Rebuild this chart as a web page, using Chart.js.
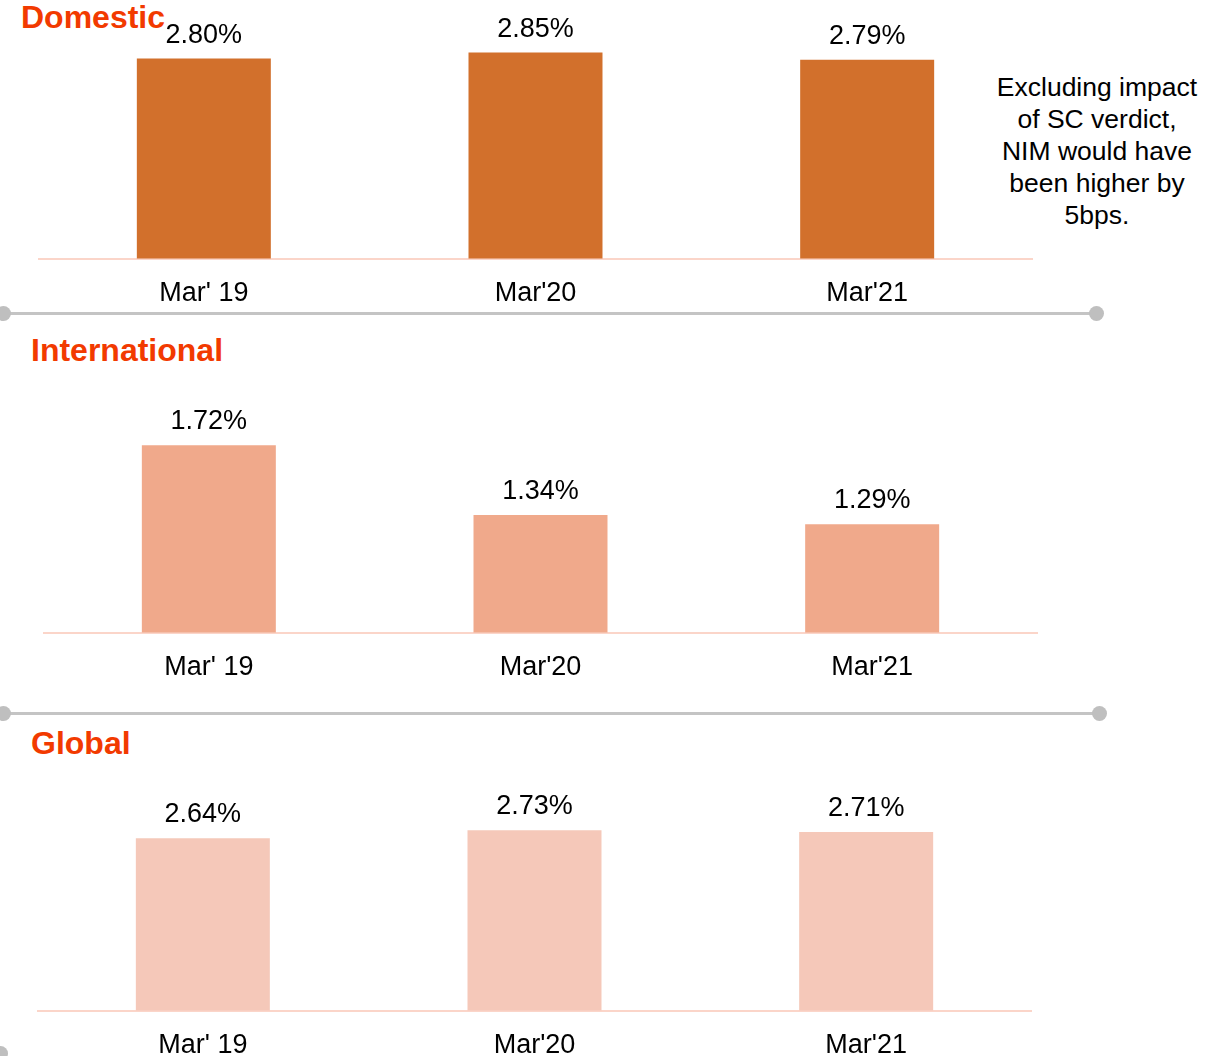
<!DOCTYPE html>
<html>
<head>
<meta charset="utf-8">
<script src="https://cdn.jsdelivr.net/npm/chart.js@4.4.1/dist/chart.umd.min.js"></script>
<style>
  html, body { margin: 0; padding: 0; background: #fff; overflow: hidden; }
  body { width: 1223px; height: 1056px; position: relative; font-family: 'Liberation Sans', Arial, sans-serif; }
  .title { position: absolute; font-weight: bold; font-size: 32px; line-height: 32px; color: #F23A00; }
  .box { position: absolute; }
  .note { position: absolute; left: 967px; top: 71px; width: 260px; text-align: center; font-size: 26.5px; line-height: 32px; color: #000; }
  .sep { position: absolute; height: 3px; background: #C4C4C4; }
  .dot { position: absolute; width: 15px; height: 15px; border-radius: 50%; background: #BFBFBF; }
</style>
</head>
<body>
<div class="title" style="left:21px; top:1px;">Domestic</div>
<div class="title" style="left:31px; top:334px;">International</div>
<div class="title" style="left:31px; top:727px;">Global</div>

<div class="note">Excluding impact<br>of SC verdict,<br>NIM would have<br>been higher by<br>5bps.</div>

<div class="sep" style="left:4px; top:312px; width:1092px;"></div>
<div class="dot" style="left:-4px; top:306px;"></div>
<div class="dot" style="left:1089px; top:306px;"></div>

<div class="sep" style="left:4px; top:712px; width:1095px;"></div>
<div class="dot" style="left:-4px; top:706px;"></div>
<div class="dot" style="left:1092px; top:706px;"></div>

<div class="dot" style="left:-7px; top:1046px;"></div>

<div class="box" style="left:38px; top:0px; width:995px; height:329px;"><canvas id="domesticChart"></canvas></div>
<div class="box" style="left:43px; top:380px; width:995px; height:323px;"><canvas id="internationalChart"></canvas></div>
<div class="box" style="left:37px; top:770px; width:995px; height:311px;"><canvas id="globalChart"></canvas></div>

<script>
// ===== DATA =====
const categories = ["Mar' 19", "Mar'20", "Mar'21"];
const domesticValues = [2.80, 2.85, 2.79];
const internationalValues = [1.72, 1.34, 1.29];
const globalValues = [2.64, 2.73, 2.71];

const FONT = "'Liberation Sans', Arial, sans-serif";

// value labels above each bar
const valueLabels = {
  id: 'valueLabels',
  afterDatasetsDraw(chart) {
    const ctx = chart.ctx;
    const meta = chart.getDatasetMeta(0);
    const values = chart.data.datasets[0].data;
    ctx.save();
    ctx.font = `27px ${FONT}`;
    ctx.fillStyle = '#000';
    ctx.textAlign = 'center';
    ctx.textBaseline = 'middle';
    meta.data.forEach((bar, i) => {
      ctx.fillText(values[i].toFixed(2) + '%', bar.x, bar.y - 23.5);
    });
    ctx.restore();
  }
};

function renderBars(id, values, color, yMin, yMax, padTop) {
  const ctx = document.getElementById(id);
  return new Chart(ctx, {
    type: 'bar',
    data: {
      labels: categories,
      datasets: [{
        data: values,
        backgroundColor: color,
        borderWidth: 0,
        categoryPercentage: 1,
        barPercentage: 0.404
      }]
    },
    options: {
      responsive: true,
      maintainAspectRatio: false,
      animation: false,
      layout: { padding: { top: padTop, left: 0, right: 0, bottom: 0 } },
      scales: {
        x: {
          grid: { display: false, drawTicks: false },
          border: { color: '#FBD5C9', width: 2 },
          ticks: { color: '#000', padding: 19, font: { family: FONT, size: 27 } }
        },
        y: { display: false, min: yMin, max: yMax }
      },
      plugins: {
        legend: { display: false },
        tooltip: { enabled: false }
      }
    },
    plugins: [valueLabels]
  });
}

renderBars('domesticChart', domesticValues, '#D2702C', 1.13, 2.955, 40);
renderBars('internationalChart', internationalValues, '#F0A98B', 0.70, 1.966, 20);
renderBars('globalChart', globalValues, '#F5C8B9', 0.70, 3.183, 20);
</script>
</body>
</html>
